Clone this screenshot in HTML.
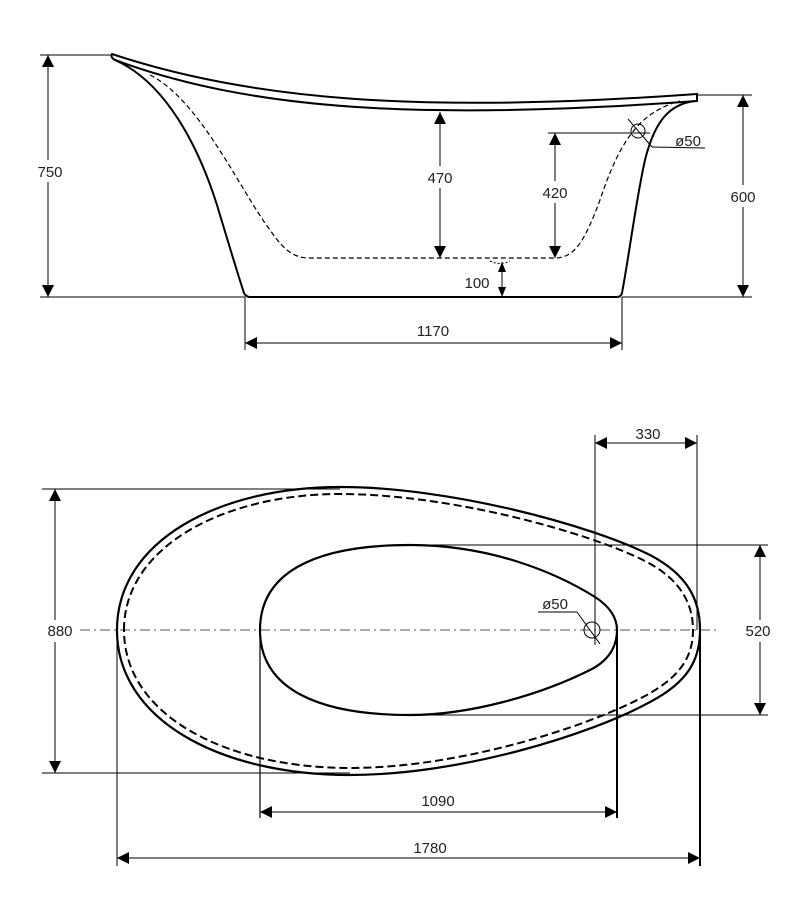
<!DOCTYPE html>
<html><head><meta charset="utf-8"><style>
html,body{margin:0;padding:0;background:#fff}
svg{display:block}
text{font-family:"Liberation Sans",sans-serif;font-size:15px;fill:#222;text-anchor:middle}
</style></head><body>
<svg width="805" height="912" viewBox="0 0 805 912" xmlns="http://www.w3.org/2000/svg">
<defs>
<marker id="a" viewBox="0 0 10 10" refX="10" refY="5" markerWidth="10" markerHeight="10" markerUnits="userSpaceOnUse" orient="auto-start-reverse"><path d="M0,1 L10,5 L0,9Z" fill="#000"/></marker>
<marker id="b" viewBox="0 0 10 10" refX="10" refY="5" markerWidth="16" markerHeight="12" markerUnits="userSpaceOnUse" orient="auto-start-reverse"><path d="M0,0 L10,5 L0,10Z" fill="#000"/></marker>
</defs>
<g fill="none" stroke="#000">
<path d="M112,54 C250,100 420,114 697,94 L697,101 C420,121 250,110 115,60 Q110,57 112,54Z" stroke-width="2"/>
<path d="M115,60 C165,82 198,145 217,205 C229,245 238,275 244,293 Q246,297 250,297 L617,297 Q621,297 622,293 C630,250 636,200 645,160 C655,120 670,104 695,101" stroke-width="2"/>
<path d="M150,75 C200,100 240,190 270,230 C285,252 295,258 310,258 L555,258 C575,258 585,240 600,200 C620,140 640,112 680,101" stroke-width="1.2" stroke-dasharray="5,3"/>
<path d="M490,261 Q500,266 510,261" stroke-width="1" stroke-dasharray="2,2"/>
<g stroke-width="1">
<line x1="40" y1="55" x2="112" y2="55"/><line x1="40" y1="297" x2="245" y2="297"/>
<line x1="622" y1="297" x2="752" y2="297"/><line x1="697" y1="95" x2="752" y2="95"/>
<line x1="48" y1="55" x2="48" y2="160" marker-start="url(#b)"/><line x1="48" y1="182" x2="48" y2="297" marker-end="url(#b)"/>
<line x1="743" y1="95" x2="743" y2="185" marker-start="url(#b)"/><line x1="743" y1="207" x2="743" y2="297" marker-end="url(#b)"/>
<line x1="440" y1="112" x2="440" y2="166" marker-start="url(#b)"/><line x1="440" y1="188" x2="440" y2="258" marker-end="url(#b)"/>
<line x1="548" y1="133" x2="650" y2="133"/>
<line x1="555" y1="133" x2="555" y2="181" marker-start="url(#b)"/><line x1="555" y1="203" x2="555" y2="258" marker-end="url(#b)"/>
<line x1="502" y1="262" x2="502" y2="297" marker-start="url(#a)" marker-end="url(#a)"/>
<line x1="245" y1="297" x2="245" y2="350"/><line x1="622" y1="297" x2="622" y2="350"/>
<line x1="245" y1="343" x2="622" y2="343" marker-start="url(#b)" marker-end="url(#b)"/>
<circle cx="638" cy="131" r="7"/>
<line x1="628" y1="119" x2="652" y2="147"/><line x1="652" y1="147" x2="705" y2="148"/>
</g>
<line x1="80" y1="630" x2="720" y2="630" stroke="#555" stroke-width="1" stroke-dasharray="10,4,2,4"/>
<path d="M117,630 C117,540 220,487 340,487 C450,487 590,525 650,555 C688,575 700,600 700,630 C700,660 688,682 650,702 C590,735 460,775 350,775 C220,775 117,720 117,630Z" stroke-width="2.2"/>
<path d="M124,630 C124,546 225,494 340,494 C448,494 585,531 645,561 C680,579 693,603 693,630 C693,657 680,677 645,696 C585,728 458,768 350,768 C225,768 124,715 124,630Z" stroke-width="2" stroke-dasharray="8,4"/>
<path d="M260,630 C260,575 310,545 410,545 C490,545 555,572 595,597 C612,608 617,620 617,630 C617,645 610,660 590,670 C540,695 470,715 410,715 C320,715 260,690 260,630Z" stroke-width="2.2"/>
<g stroke-width="1">
<line x1="42" y1="489" x2="340" y2="489"/><line x1="42" y1="773" x2="350" y2="773"/>
<line x1="55" y1="489" x2="55" y2="620" marker-start="url(#b)"/><line x1="55" y1="642" x2="55" y2="773" marker-end="url(#b)"/>
<line x1="410" y1="545" x2="768" y2="545"/><line x1="410" y1="715" x2="768" y2="715"/>
<line x1="760" y1="545" x2="760" y2="620" marker-start="url(#b)"/><line x1="760" y1="642" x2="760" y2="715" marker-end="url(#b)"/>
<line x1="595" y1="435" x2="595" y2="645"/><line x1="697" y1="435" x2="697" y2="630"/>
<line x1="595" y1="443" x2="697" y2="443" marker-start="url(#b)" marker-end="url(#b)"/>
<line x1="260" y1="812" x2="617" y2="812" marker-start="url(#b)" marker-end="url(#b)"/>
<line x1="117" y1="858" x2="700" y2="858" marker-start="url(#b)" marker-end="url(#b)"/>
<circle cx="592" cy="630" r="8"/>
<line x1="600" y1="644" x2="577" y2="612"/><line x1="577" y1="612" x2="538" y2="612"/>
</g>
<line x1="117" y1="630" x2="117" y2="866" stroke-width="1"/>
<line x1="260" y1="630" x2="260" y2="818" stroke-width="1.2"/>
<line x1="617" y1="630" x2="617" y2="818" stroke-width="2"/>
<line x1="700" y1="630" x2="700" y2="866" stroke-width="2"/>
</g>
<text x="50" y="177">750</text>
<text x="743" y="202">600</text>
<text x="440" y="183">470</text>
<text x="555" y="198">420</text>
<text x="477" y="288">100</text>
<text x="433" y="336">1170</text>
<text x="688" y="146">ø50</text>
<text x="60" y="636">880</text>
<text x="758" y="636">520</text>
<text x="648" y="439">330</text>
<text x="438" y="806">1090</text>
<text x="430" y="853">1780</text>
<text x="555" y="609">ø50</text>
</svg>
</body></html>
